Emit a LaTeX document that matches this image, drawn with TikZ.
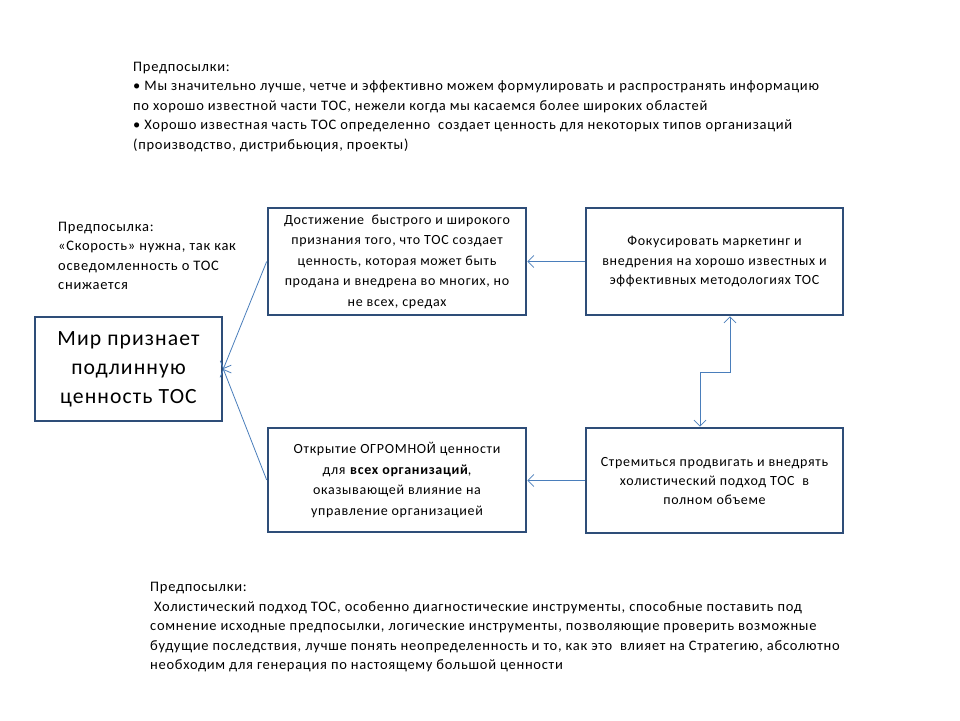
\documentclass[tikz,border=0pt]{standalone}
\usepackage{fontspec}
\setmainfont{Carlito}[LetterSpace=5]
\usetikzlibrary{arrows.meta}
\definecolor{boxc}{HTML}{2E4D78}
\definecolor{linec}{HTML}{4A7EBB}
\begin{document}
\begin{tikzpicture}[x=1pt,y=-1pt,
  box/.style={draw=boxc,line width=2.6pt,fill=white,align=center,inner sep=0pt,font=\fontsize{14}{20.5}\selectfont},
  conn/.style={draw=linec,line width=0.8pt,-{Straight Barb[length=6pt,width=12pt,line width=0.8pt]}},
  note/.style={align=left,anchor=north west,inner sep=0pt,font=\fontsize{14.5}{19.5}\selectfont}]
\useasboundingbox (0,0) rectangle (960,720);
\fill[white] (0,0) rectangle (960,720);

\node[box,minimum width=187pt,minimum height=104pt,font=\fontsize{21.7}{29}\selectfont] (mir) at (128.5,369) {Мир признает\\подлинную\\ценность ТОС};
\node[box,minimum width=258pt,minimum height=107pt] (tm) at (397,261.5) {Достижение\ \ быстрого и широкого\\признания того, что ТОС создает\\ценность, которая может быть\\продана и внедрена во многих, но\\не всех, средах};
\node[box,minimum width=257pt,minimum height=107pt,font=\fontsize{14}{19.5}\selectfont] (tr) at (714.5,261.5) {Фокусировать маркетинг и\\внедрения на хорошо известных и\\эффективных методологиях ТОС};
\node[box,minimum width=258pt,minimum height=104pt] (bm) at (397,480) {Открытие ОГРОМНОЙ ценности\\для \textbf{всех организаций},\\оказывающей влияние на\\управление организацией};
\node[box,minimum width=257pt,minimum height=105pt,font=\fontsize{14}{19}\selectfont] (br) at (714.5,480.5) {Стремиться продвигать и внедрять\\холистический подход ТОС\ \ в\\полном объеме};

\node[note] (top) at (133,61.5) {Предпосылки:\\• Мы значительно лучше, четче и эффективно можем формулировать и распространять информацию\\по хорошо известной части ТОС, нежели когда мы касаемся более широких областей\\• Хорошо известная часть ТОС определенно\ \ создает ценность для некоторых типов организаций\\(производство, дистрибьюция, проекты)};
\node[note] (left) at (58,221.5) {Предпосылка:\\«Скорость» нужна, так как\\осведомленность о ТОС\\снижается};
\node[note] (bot) at (150,582) {Предпосылки:\\\ Холистический подход ТОС, особенно диагностические инструменты, способные поставить под\\сомнение исходные предпосылки, логические инструменты, позволяющие проверить возможные\\будущие последствия, лучше понять неопределенность и то, как это\ \ влияет на Стратегию, абсолютно\\необходим для генерация по настоящему большой ценности};

\draw[conn] (tr.west) -- (tm.east |- tr.west);
\draw[conn] (br.west) -- (bm.east |- br.west);
\draw[conn] (tm.west) -- (mir.east);
\draw[conn] (bm.west) -- (mir.east);
\coordinate (e1) at (730,372);
\coordinate (e2) at (700,372);
\draw[conn,{Straight Barb[length=6pt,width=12pt,line width=0.8pt]}-{Straight Barb[length=6pt,width=12pt,line width=0.8pt]}] (tr.south -| e1) -- (e1) -- (e2) -- (br.north -| e2);
\end{tikzpicture}
\end{document}
